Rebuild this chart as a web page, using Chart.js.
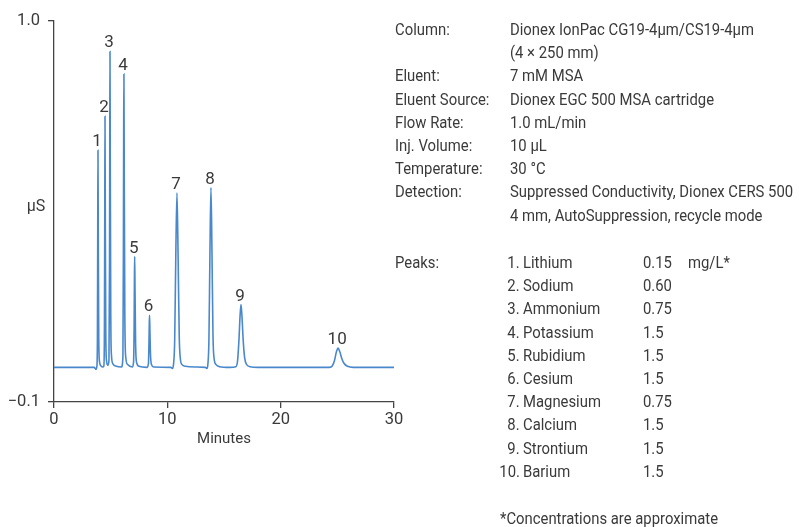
<!DOCTYPE html>
<html>
<head>
<meta charset="utf-8">
<script src="https://cdn.jsdelivr.net/npm/chart.js@4.4.1/dist/chart.umd.min.js"></script>
<style>
  html, body { margin: 0; padding: 0; background: #fff; }
  #wrap { position: relative; width: 799px; height: 527px; overflow: hidden; }
  canvas { position: absolute; left: 0; top: 0; }
  .t { position: absolute; font-family: "Liberation Sans Narrow", "Roboto", sans-serif; font-size: 16.5px; color: #3a3a3a; line-height: 20px; white-space: nowrap; transform: scaleX(0.9); transform-origin: left center; }
  .r { transform-origin: right center; text-align: right; }
</style>
</head>
<body>
<div id="wrap">
  <canvas id="c" width="799" height="527"></canvas>
  <div id="info"></div>
</div>
<script>
// ---- Data ----
const times = [0, 3.55, 3.7, 3.78, 3.83, 3.86, 3.88, 3.91, 3.95, 4.02, 4.15, 4.3,
  4.4, 4.45, 4.48, 4.5, 4.53, 4.57, 4.63, 4.75,
  4.85, 4.9, 4.92, 4.94, 4.97, 5.01, 5.07, 5.2, 5.5, 5.95,
  6.08, 6.12, 6.15, 6.17, 6.2, 6.25, 6.33, 6.5, 6.9,
  7.02, 7.07, 7.1, 7.12, 7.15, 7.2, 7.28, 7.5, 8.2,
  8.33, 8.38, 8.41, 8.43, 8.46, 8.51, 8.6, 8.8,
  10.3, 10.45, 10.55, 10.65, 10.75, 10.85, 10.95, 11.05, 11.15, 11.3, 11.6, 12.5,
  13.35, 13.5, 13.58, 13.67, 13.76, 13.85, 13.94, 14.03, 14.13, 14.3, 14.6, 15.5,
  16.05, 16.2, 16.32, 16.42, 16.5, 16.58, 16.7, 16.82, 16.98, 17.3, 18,
  24.3, 24.55, 24.75, 24.92, 25.07, 25.22, 25.4, 25.6, 25.9, 26.4, 30];
const signal = [0, 0, -0.006, 0.002, 0.08, 0.4, 0.627, 0.35, 0.08, 0.015, 0.004, 0.001,
  0.004, 0.12, 0.45, 0.725, 0.4, 0.1, 0.02, 0.006,
  0.02, 0.3, 0.65, 0.912, 0.55, 0.15, 0.035, 0.01, 0.003, 0.001,
  0.03, 0.3, 0.7, 0.847, 0.55, 0.15, 0.03, 0.008, 0.001,
  0.015, 0.12, 0.27, 0.32, 0.22, 0.07, 0.015, 0.003, 0,
  0.01, 0.07, 0.13, 0.15, 0.11, 0.04, 0.008, 0.001,
  0, -0.003, 0.01, 0.08, 0.33, 0.504, 0.32, 0.09, 0.025, 0.008, 0.003, 0.001,
  0, -0.003, 0.01, 0.08, 0.33, 0.519, 0.33, 0.09, 0.025, 0.008, 0.002, 0,
  0.002, 0.02, 0.08, 0.15, 0.181, 0.15, 0.075, 0.028, 0.009, 0.002, 0,
  0, 0.004, 0.02, 0.045, 0.056, 0.045, 0.025, 0.011, 0.003, 0, 0];

const peakLabels = ['1', '2', '3', '4', '5', '6', '7', '8', '9', '10'];
const peakTimes = [3.88, 4.5, 4.94, 6.17, 7.12, 8.43, 10.85, 13.85, 16.5, 25.07];
const peakHeights = [0.627, 0.725, 0.912, 0.847, 0.32, 0.15, 0.504, 0.519, 0.181, 0.056];

const xTicks = [0, 10, 20, 30];
const yTicks = [-0.1, 1.0];
const yTickLabels = ['\u22120.1', '1.0'];

const condLabels = ['Column:', '', 'Eluent:', 'Eluent Source:', 'Flow Rate:', 'Inj. Volume:', 'Temperature:', 'Detection:', ''];
const condValues = ['Dionex IonPac CG19-4\u00b5m/CS19-4\u00b5m', '(4 \u00d7 250 mm)', '7 mM MSA',
  'Dionex EGC 500 MSA cartridge', '1.0 mL/min', '10 \u00b5L', '30 \u00b0C',
  'Suppressed Conductivity, Dionex CERS 500', '4 mm, AutoSuppression, recycle mode'];
const peakNames = ['Lithium', 'Sodium', 'Ammonium', 'Potassium', 'Rubidium', 'Cesium', 'Magnesium', 'Calcium', 'Strontium', 'Barium'];
const peakConc = ['0.15', '0.60', '0.75', '1.5', '1.5', '1.5', '0.75', '1.5', '1.5', '1.5'];
const concUnit = 'mg/L*';
const footnote = '*Concentrations are approximate';

// ---- Info text (HTML) ----
const info = document.getElementById('info');
function addText(txt, left, centerY, right) {
  const d = document.createElement('div');
  d.className = right ? 't r' : 't';
  d.textContent = txt;
  if (right) d.style.right = (799 - left) + 'px';
  else d.style.left = left + 'px';
  d.style.top = (centerY - 10) + 'px';
  info.appendChild(d);
}
condLabels.forEach((l, i) => {
  const y = 30 + i * 23.2;
  if (l) addText(l, 395, y);
  addText(condValues[i], 510, y);
});
addText('Peaks:', 395, 263);
peakNames.forEach((n, i) => {
  const y = 263 + i * 23.2;
  addText((i + 1) + '.', 520, y, true);
  addText(n, 523, y);
  addText(peakConc[i], 643, y);
  if (i === 0) addText(concUnit, 688, y);
});
addText(footnote, 500, 519);

// ---- Chart ----
const FONT = '"Liberation Sans Narrow", "Roboto", sans-serif';
const TXT = '#3a3a3a';
const AX = '#444444';

const overlay = {
  id: 'overlay',
  afterDatasetsDraw(chart) {
    const { ctx, scales: { x, y } } = chart;
    ctx.save();
    ctx.fillStyle = TXT;
    ctx.font = '17px ' + FONT;
    ctx.textAlign = 'center';
    ctx.textBaseline = 'alphabetic';
    peakLabels.forEach((lab, i) => {
      ctx.fillText(lab, x.getPixelForValue(peakTimes[i]) - 1, y.getPixelForValue(peakHeights[i]) - 4);
    });
    ctx.font = '16px ' + FONT;
    ctx.textBaseline = 'middle';
    ctx.fillText('\u00b5S', 36, 207);
    ctx.restore();
  }
};

function noPad(scale) {
  scale.paddingLeft = 0; scale.paddingRight = 0;
  scale.paddingTop = 0; scale.paddingBottom = 0;
}

new Chart(document.getElementById('c'), {
  type: 'line',
  data: {
    datasets: [{
      data: times.map((t, i) => ({ x: t, y: signal[i] })),
      borderColor: '#4a88cc',
      borderWidth: 1.6,
      pointRadius: 0,
      fill: false,
      cubicInterpolationMode: 'monotone'
    }]
  },
  options: {
    responsive: false,
    animation: false,
    events: [],
    layout: { padding: { left: 0, top: 21, right: 405, bottom: 0 } },
    plugins: { legend: { display: false }, tooltip: { enabled: false } },
    scales: {
      x: {
        type: 'linear', min: 0, max: 30,
        afterBuildTicks: s => { s.ticks = xTicks.map(v => ({ value: v })); },
        afterFit: s => { s.height = 125; noPad(s); },
        ticks: { color: TXT, font: { family: FONT, size: 16.5 }, padding: 2, maxRotation: 0, autoSkip: false },
        grid: { drawOnChartArea: false, drawTicks: true, tickLength: 6, color: AX, lineWidth: 1.3 },
        border: { display: true, color: AX, width: 1.3 },
        title: { display: true, text: 'Minutes', color: TXT, font: { family: FONT, size: 15 }, padding: { top: 0, bottom: 79 } }
      },
      y: {
        type: 'linear', min: -0.1, max: 1.0,
        afterBuildTicks: s => { s.ticks = yTicks.map(v => ({ value: v })); },
        afterFit: s => { s.width = 54; noPad(s); },
        ticks: {
          color: TXT, font: { family: FONT, size: 16.5 }, padding: 8, autoSkip: false,
          callback: v => yTickLabels[yTicks.findIndex(t => Math.abs(t - v) < 1e-9)]
        },
        grid: { drawOnChartArea: false, drawTicks: true, tickLength: 6, color: AX, lineWidth: 1.3 },
        border: { display: true, color: AX, width: 1.3 }
      }
    }
  },
  plugins: [overlay]
});
</script>
</body>
</html>
